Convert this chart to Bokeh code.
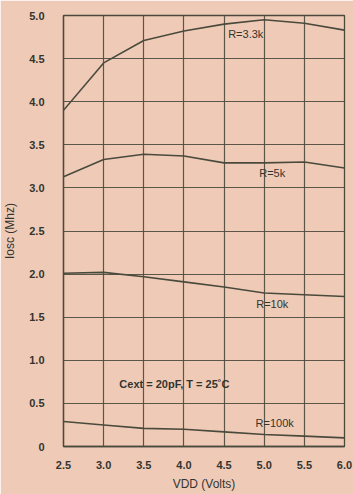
from bokeh.plotting import figure
from bokeh.models import Label, FixedTicker, Range1d
from bokeh.embed import file_html
from bokeh.resources import INLINE

# Data
vdd = [2.5, 3.0, 3.5, 4.0, 4.5, 5.0, 5.5, 6.0]
r_3k3 = [3.90, 4.45, 4.71, 4.82, 4.90, 4.95, 4.91, 4.83]
r_5k = [3.13, 3.33, 3.39, 3.37, 3.29, 3.29, 3.30, 3.23]
r_10k = [2.01, 2.02, 1.97, 1.91, 1.85, 1.78, 1.76, 1.74]
r_100k = [0.29, 0.25, 0.21, 0.20, 0.17, 0.14, 0.12, 0.10]
x_ticks = [2.5, 3.0, 3.5, 4.0, 4.5, 5.0, 5.5, 6.0]
y_ticks = [0, 0.5, 1.0, 1.5, 2.0, 2.5, 3.0, 3.5, 4.0, 4.5, 5.0]
y_tick_labels = ["0", "0.5", "1.0", "1.5", "2.0", "2.5", "3.0", "3.5", "4.0", "4.5", "5.0"]

BG = "#efcbb7"
INK = "#4a4a3c"
TXT = "#34342f"
FONT = "Liberation Sans"

p = figure(frame_width=281, frame_height=431, output_backend="svg", toolbar_location=None,
           x_range=Range1d(2.5, 6.0), y_range=Range1d(0, 5.0),
           min_border_left=63, min_border_right=9, min_border_top=15, min_border_bottom=48)
p.background_fill_color = BG
p.border_fill_color = BG
p.outline_line_color = INK
p.outline_line_width = 1.3

p.xaxis.ticker = FixedTicker(ticks=x_ticks)
p.yaxis.ticker = FixedTicker(ticks=y_ticks)
p.yaxis.major_label_overrides = {t: l for t, l in zip(y_ticks, y_tick_labels)}
p.xaxis.major_label_overrides = {t: f"{t:.1f}" for t in x_ticks}
for ax in (p.xaxis, p.yaxis):
    ax.axis_line_color = INK
    ax.axis_line_width = 1.3
    ax.major_tick_line_color = None
    ax.minor_tick_line_color = None
    ax.major_label_text_font = FONT
    ax.major_label_text_font_style = "bold"
    ax.major_label_text_font_size = "11px"
    ax.major_label_text_color = TXT
    ax.axis_label_text_font = FONT
    ax.axis_label_text_font_style = "normal"
    ax.axis_label_text_font_size = "12px"
    ax.axis_label_text_color = TXT
p.xaxis.major_label_standoff = 8
p.yaxis.major_label_standoff = 13
p.xaxis.axis_label = "VDD (Volts)"
p.xaxis.axis_label_standoff = 5
p.yaxis.axis_label = "Iosc (Mhz)"
p.yaxis.axis_label_standoff = 9

p.xgrid.ticker = FixedTicker(ticks=x_ticks)
p.ygrid.ticker = FixedTicker(ticks=y_ticks)
for g in (p.xgrid, p.ygrid):
    g.grid_line_color = INK
    g.grid_line_width = 1.2
    g.grid_line_alpha = 0.9

for ys in (r_3k3, r_5k, r_10k, r_100k):
    p.line(vdd, ys, line_color=INK, line_width=1.6)

labels = [("R=3.3k", 4.77, 4.79), ("R=5k", 5.1, 3.17),
          ("R=10k", 5.1, 1.65), ("R=100k", 5.13, 0.27)]
for t, x, y in labels:
    p.add_layout(Label(x=x, y=y, text=t, text_align="center", text_baseline="middle",
                       text_font=FONT, text_font_size="11px", text_color=TXT))
p.add_layout(Label(x=3.9, y=0.72, text="Cext = 20pF,  T = 25\u02daC", text_align="center",
                   text_baseline="middle", text_font=FONT, text_font_size="11px",
                   text_font_style="bold", text_color=TXT))

open("out.html", "w").write(file_html(p, INLINE))
